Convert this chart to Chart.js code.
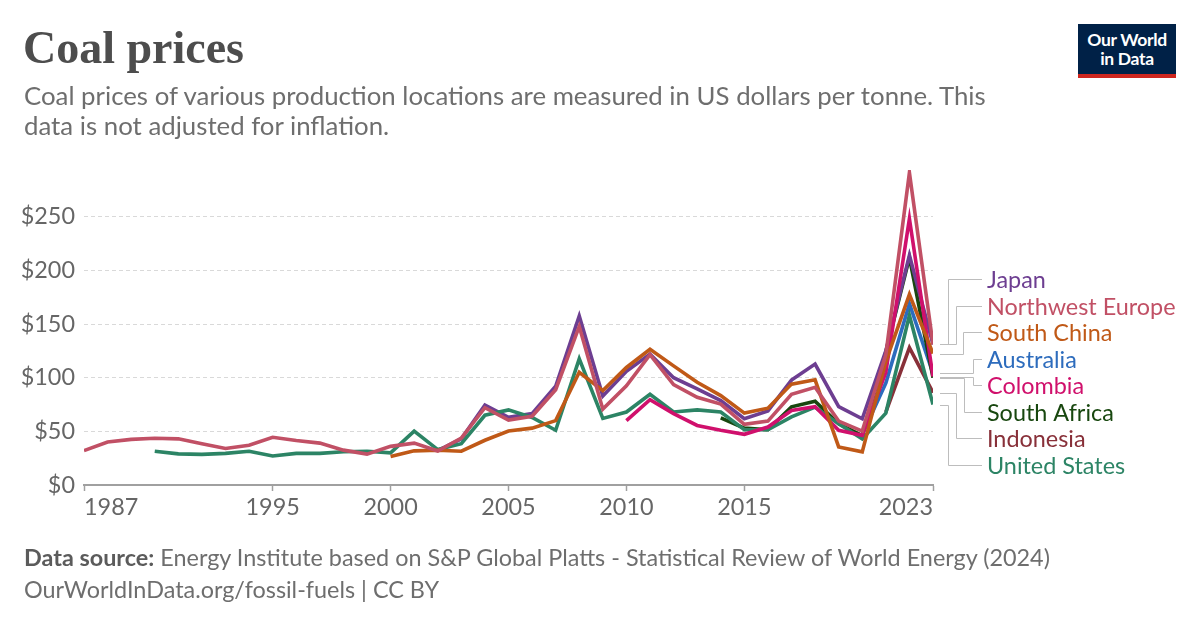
<!DOCTYPE html>
<html>
<head>
<meta charset="utf-8">
<script src="https://cdn.jsdelivr.net/npm/chart.js@4.4.0/dist/chart.umd.min.js"></script>
<style>
  html, body { margin: 0; padding: 0; background: #fff; }
  #wrap { position: relative; width: 1200px; height: 628px; overflow: hidden; font-family: Lato, sans-serif; }
  #chart { position: absolute; left: 0; top: 0; }
  .title { position: absolute; left: 23px; top: 20px; font-family: "Liberation Serif", serif; font-weight: bold; font-size: 46px; line-height: 56px; color: #4d4d4d; }
  .subtitle { position: absolute; left: 24px; top: 80px; width: 975px; font-size: 25.8px; line-height: 30px; color: #6e6e6e; }
  .footer { position: absolute; left: 24px; top: 541px; font-size: 23.4px; line-height: 32px; color: #6e6e6e; }
  .footer b { color: #5b5b5b; }
  .logo { position: absolute; left: 1078px; top: 24px; width: 98px; background: #002147; border-bottom: 4px solid #ce261e;
          color: #fff; font-weight: bold; font-size: 17.5px; line-height: 19px; text-align: center; padding-top: 6px; height: 44px; letter-spacing: -0.3px; }
</style>
</head>
<body>
<div id="wrap">
  <canvas id="chart" width="1200" height="628"></canvas>
  <div class="title">Coal prices</div>
  <div class="subtitle">Coal prices of various production locations are measured in US dollars per tonne. This data is not adjusted for inflation.</div>
  <div class="logo">Our World<br>in Data</div>
  <div class="footer"><b>Data source:</b> Energy Institute based on S&amp;P Global Platts - Statistical Review of World Energy (2024)<br>OurWorldInData.org/fossil-fuels | CC BY</div>
</div>
<script>
// Años (eje x)
const years = [1987, 1988, 1989, 1990, 1991, 1992, 1993, 1994, 1995, 1996,
               1997, 1998, 1999, 2000, 2001, 2002, 2003, 2004, 2005, 2006,
               2007, 2008, 2009, 2010, 2011, 2012, 2013, 2014, 2015, 2016,
               2017, 2018, 2019, 2020, 2021, 2022, 2023];

// Precios en US$ por tonelada (null = sin dato)
const northwestEurope = [32, 40, 42.5, 43.5, 43, 38.5, 34, 37, 44.5, 41.5,
                         39, 32.5, 28.8, 36, 39, 31.7, 43.6, 72, 60.5, 64,
                         88.8, 147.7, 70.7, 92.5, 121.5, 93.5, 81.7, 75.4, 56.6, 59.5,
                         84.5, 91, 59.5, 50.2, 121.4, 291, 131];
const unitedStates = [null, null, null, 31.5, 29, 28.5, 29.5, 31.5, 27, 29.5,
                      29.5, 31, 31.5, 29.9, 50.2, 33, 38.5, 65, 70, 62.9,
                      51, 117.5, 62, 68, 84.5, 68, 70, 68, 51.5, 51.5,
                      63.5, 72.5, 57, 43, 67, 158, 75];
const southChina = [null, null, null, null, null, null, null, null, null, null,
                    null, null, null, 26.5, 31.8, 32.4, 31.5, 41.7, 50.3, 53,
                    60, 105, 88, 109.5, 126.5, 111, 95.7, 83.3, 67, 71.6,
                    94, 98, 35.5, 30.9, 115, 177.7, 122.5];
const japan = [null, null, null, null, null, null, null, null, null, null,
               null, null, null, null, null, 32, 43, 74.5, 63, 66.5,
               92, 157.5, 83, 106, 122, 100, 89.5, 78.7, 61.7, 69,
               97.8, 112.7, 73, 61.7, 125, 214, 131];
const colombia = [null, null, null, null, null, null, null, null, null, null,
                  null, null, null, null, null, null, null, null, null, null,
                  null, null, null, 60, 79.5, 66.5, 55.5, 51, 47.2, 54,
                  69.4, 73, 51, 46.3, 105, 248, 101];
const southAfrica = [null, null, null, null, null, null, null, null, null, null,
                     null, null, null, null, null, null, null, null, null, null,
                     null, null, null, null, null, null, null, 62.5, 53, 51.5,
                     72.8, 78, 57, 46, 124, 212, 100];
const australia = [null, null, null, null, null, null, null, null, null, null,
                   null, null, null, null, null, null, null, null, null, null,
                   null, null, null, null, null, null, null, null, null, null,
                   null, null, null, 47, 95, 169, 104];
const indonesia = [null, null, null, null, null, null, null, null, null, null,
                   null, null, null, null, null, null, null, null, null, null,
                   null, null, null, null, null, null, null, null, null, null,
                   null, null, null, null, 68, 128, 86];

// Marcas de los ejes
const xTickYears = [1987, 1995, 2000, 2005, 2010, 2015, 2023];
const yTickValues = [0, 50, 100, 150, 200, 250];

// Series en el orden de la leyenda
const series = [
  { name: 'Japan',            data: japan,           color: '#6d3e91', order: 4 },
  { name: 'Northwest Europe', data: northwestEurope, color: '#c15065', order: 0 },
  { name: 'South China',      data: southChina,      color: '#c05917', order: 1 },
  { name: 'Australia',        data: australia,       color: '#2d6cbd', order: 6 },
  { name: 'Colombia',         data: colombia,        color: '#d0106c', order: 2 },
  { name: 'South Africa',     data: southAfrica,     color: '#18470f', order: 5 },
  { name: 'Indonesia',        data: indonesia,       color: '#883039', order: 7 },
  { name: 'United States',    data: unitedStates,    color: '#2c8465', order: 3 }
];

// Posición de etiquetas y codos de las líneas guía
const labelY = [279, 306, 332, 359, 385, 412, 438, 465];
const elbowX = [948, 956, 963, 973, 973, 964, 956, 948];

/**
 * Dibuja las etiquetas a la derecha con sus líneas guía
 */
const endLabels = {
  id: 'endLabels',
  afterDraw(chart) {
    const ctx = chart.ctx;
    const yScale = chart.scales.y;
    const x0 = chart.chartArea.right + 7;
    ctx.save();
    series.forEach((s, i) => {
      const last = s.data[s.data.length - 1];
      const yEnd = yScale.getPixelForValue(last);
      ctx.strokeStyle = '#bdbdbd';
      ctx.lineWidth = 1;
      ctx.beginPath();
      ctx.moveTo(x0, Math.round(yEnd) + 0.5);
      ctx.lineTo(elbowX[i] + 0.5, Math.round(yEnd) + 0.5);
      ctx.lineTo(elbowX[i] + 0.5, labelY[i] + 0.5);
      ctx.lineTo(982, labelY[i] + 0.5);
      ctx.stroke();
      ctx.fillStyle = s.color;
      ctx.font = '23.4px Lato';
      ctx.textBaseline = 'middle';
      ctx.textAlign = 'left';
      ctx.fillText(s.name, 987, labelY[i] + 1);
    });
    ctx.restore();
  }
};

new Chart(document.getElementById('chart'), {
  type: 'line',
  data: {
    datasets: series.map(s => ({
      label: s.name,
      data: years.map((yr, i) => ({ x: yr, y: s.data[i] })),
      borderColor: s.color,
      backgroundColor: s.color,
      borderWidth: 3.6,
      pointRadius: 0,
      tension: 0,
      spanGaps: false,
      order: s.order
    }))
  },
  options: {
    responsive: false,
    animation: false,
    layout: { padding: { top: 170, right: 267, bottom: 103, left: 0 } },
    plugins: { legend: { display: false }, tooltip: { enabled: false } },
    scales: {
      x: {
        type: 'linear',
        min: 1987,
        max: 2023,
        afterBuildTicks: scale => { scale.ticks = xTickYears.map(v => ({ value: v })); },
        afterFit: scale => { scale.height = 40; },
        grid: { drawOnChartArea: false, drawTicks: true, tickLength: 6, tickWidth: 1.5, tickColor: '#a0a0a0' },
        border: { display: true, color: '#a0a0a0', width: 2 },
        ticks: {
          align: 'inner',
          autoSkip: false,
          maxRotation: 0,
          padding: 2,
          color: '#666',
          font: { family: 'Lato', size: 23.4 },
          callback: v => String(v)
        }
      },
      y: {
        min: 0,
        max: 293.5,
        afterBuildTicks: scale => { scale.ticks = yTickValues.map(v => ({ value: v })); },
        afterFit: scale => { scale.width = 84; },
        grid: { color: '#d9d9d9', lineWidth: 1, drawTicks: false },
        border: { display: false, dash: [4, 3] },
        ticks: {
          padding: 9,
          color: '#666',
          font: { family: 'Lato', size: 23.4 },
          callback: v => '$' + v
        }
      }
    }
  },
  plugins: [endLabels]
});
</script>
</body>
</html>
